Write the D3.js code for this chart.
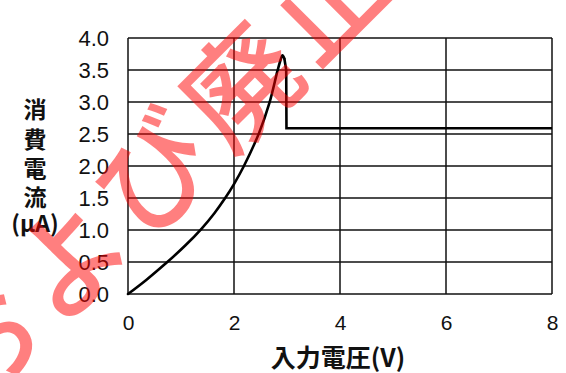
<!DOCTYPE html>
<html>
<head>
<meta charset="utf-8">
<script src="https://cdn.jsdelivr.net/npm/d3@7"></script>
<style>
  html, body { margin: 0; padding: 0; background: #fff; }
  svg { display: block; }
</style>
</head>
<body>
<svg id="chart" width="566" height="373"></svg>
<script>
// Axis ticks
const xTicks = [0, 2, 4, 6, 8];
const yTicks = [0, 0.5, 1.0, 1.5, 2.0, 2.5, 3.0, 3.5, 4.0];

// Supply current vs. input voltage: rising part up to the peak
const riseVoltage = [0, 0.35, 0.72, 1.08, 1.39, 1.63, 1.84, 2.0, 2.18, 2.47, 2.67, 2.82, 2.88, 2.915, 2.95];
const riseCurrent = [0, 0.224, 0.483, 0.757, 1.023, 1.263, 1.507, 1.718, 1.988, 2.51, 2.99, 3.485, 3.66, 3.73, 3.68];

// Drop after the peak and the flat plateau
const stepVoltage = [2.95, 2.985, 2.99, 8];
const stepCurrent = [3.68, 3.50, 2.59, 2.59];

const svg = d3.select("#chart");
const margin = { left: 128, right: 14, top: 38, bottom: 79 };
const W = 566, H = 373;

const x = d3.scaleLinear().domain([0, 8]).range([margin.left, W - margin.right]);
const y = d3.scaleLinear().domain([0, 4]).range([H - margin.bottom, margin.top]);

const tickFont = "'Liberation Sans', Arial, Helvetica, sans-serif";
const cjkFont = "'Noto Sans CJK JP', 'Noto Sans', sans-serif";

// Grid
const grid = svg.append("g").attr("stroke", "#111").attr("stroke-width", 1.5).attr("fill", "none");
grid.selectAll("line.h").data(yTicks).join("line")
  .attr("x1", x(0)).attr("x2", x(8))
  .attr("y1", d => y(d)).attr("y2", d => y(d));
grid.selectAll("line.v").data(xTicks).join("line")
  .attr("y1", y(0)).attr("y2", y(4))
  .attr("x1", d => x(d)).attr("x2", d => x(d));

// Y axis labels
const yAxis = d3.axisLeft(y).tickValues(yTicks).tickFormat(d3.format(".1f")).tickSize(0).tickPadding(19);
const gy = svg.append("g").attr("transform", `translate(${x(0)},0)`).call(yAxis);
gy.select(".domain").remove();
gy.selectAll("text").attr("font-family", tickFont).attr("font-size", 22).attr("fill", "#111").attr("dy", "0.36em");

// X axis labels
const xAxis = d3.axisBottom(x).tickValues(xTicks).tickFormat(d3.format("d")).tickSize(0).tickPadding(21);
const gx = svg.append("g").attr("transform", `translate(0,${y(0)})`).call(xAxis);
gx.select(".domain").remove();
gx.selectAll("text").attr("font-family", tickFont).attr("font-size", 21).attr("fill", "#111");

// Curve
const riseLine = d3.line().x(d => x(d[0])).y(d => y(d[1])).curve(d3.curveCatmullRom.alpha(0.5));
const stepLine = d3.line().x(d => x(d[0])).y(d => y(d[1]));
svg.append("path")
  .attr("d", riseLine(d3.zip(riseVoltage, riseCurrent)))
  .attr("fill", "none").attr("stroke", "#000").attr("stroke-width", 2.6)
  .attr("stroke-linejoin", "round").attr("stroke-linecap", "round");
svg.append("path")
  .attr("d", stepLine(d3.zip(stepVoltage, stepCurrent)))
  .attr("fill", "none").attr("stroke", "#000").attr("stroke-width", 2.6)
  .attr("stroke-linejoin", "miter");

// Axis titles
svg.append("text")
  .attr("x", (x(0) + x(8)) / 2 - 2).attr("y", 356)
  .attr("text-anchor", "middle").attr("dominant-baseline", "central")
  .attr("font-family", cjkFont).attr("font-weight", "bold").attr("font-size", 25).attr("fill", "#111")
  .text("入力電圧(V)");

const yTitle = ["消", "費", "電", "流", "(μA)"];
const yTitleY = [108, 138, 167, 196, 222];
svg.append("text")
  .attr("text-anchor", "middle").attr("dominant-baseline", "central")
  .attr("font-family", cjkFont).attr("font-weight", "bold").attr("font-size", 23).attr("fill", "#111")
  .selectAll("tspan").data(yTitle).join("tspan")
  .attr("x", 35).attr("y", (d, i) => yTitleY[i])
  .text(d => d);

// Red stamp across the chart
svg.append("text")
  .attr("transform", "translate(152,165) rotate(-45)")
  .attr("text-anchor", "middle").attr("dominant-baseline", "central")
  .attr("font-family", cjkFont).attr("font-weight", 500).attr("font-size", 114)
  .attr("letter-spacing", 8)
  .attr("fill", "rgba(255,0,0,0.5)")
  .text("および廃止");
</script>
</body>
</html>
